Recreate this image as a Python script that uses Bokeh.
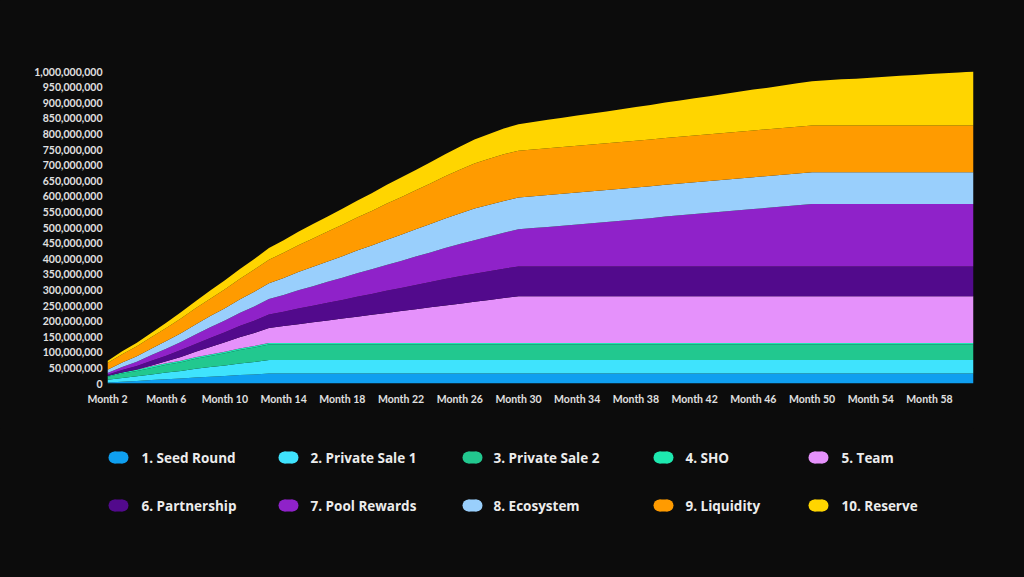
from bokeh.plotting import figure
from bokeh.models import ColumnDataSource, Range1d, FixedTicker, NumeralTickFormatter
from bokeh.layouts import column
from bokeh.embed import file_html
from bokeh.resources import INLINE
from bokeh.core.properties import value

# ---------------- data (millions of tokens, months 2..61) ----------------
months = list(range(2, 62))

seed_round = [3, 6, 8, 11, 14, 16, 19, 22, 24, 27, 29, 32,
              32, 32, 32, 32, 32, 32, 32, 32, 32, 32, 32, 32,
              32, 32, 32, 32, 32, 32, 32, 32, 32, 32, 32, 32,
              32, 32, 32, 32, 32, 32, 32, 32, 32, 32, 32, 32,
              32, 32, 32, 32, 32, 32, 32, 32, 32, 32, 32, 32]
private_sale_1 = [9, 12, 15, 18, 21, 24, 28, 31, 34, 37, 40, 43,
                  43, 43, 43, 43, 43, 43, 43, 43, 43, 43, 43, 43,
                  43, 43, 43, 43, 43, 43, 43, 43, 43, 43, 43, 43,
                  43, 43, 43, 43, 43, 43, 43, 43, 43, 43, 43, 43,
                  43, 43, 43, 43, 43, 43, 43, 43, 43, 43, 43, 43]
private_sale_2 = [10, 14, 17, 21, 25, 28, 32, 35, 39, 43, 46, 50,
                  50, 50, 50, 50, 50, 50, 50, 50, 50, 50, 50, 50,
                  50, 50, 50, 50, 50, 50, 50, 50, 50, 50, 50, 50,
                  50, 50, 50, 50, 50, 50, 50, 50, 50, 50, 50, 50,
                  50, 50, 50, 50, 50, 50, 50, 50, 50, 50, 50, 50]
sho = [2, 3, 4, 5, 5, 5, 5, 5, 5, 5, 5, 5,
       5, 5, 5, 5, 5, 5, 5, 5, 5, 5, 5, 5,
       5, 5, 5, 5, 5, 5, 5, 5, 5, 5, 5, 5,
       5, 5, 5, 5, 5, 5, 5, 5, 5, 5, 5, 5,
       5, 5, 5, 5, 5, 5, 5, 5, 5, 5, 5, 5]
team = [0, 0, 1, 3, 6, 12, 18, 24, 30, 36, 42, 48,
        54, 60, 66, 72, 78, 84, 90, 96, 102, 108, 114, 120,
        126, 132, 138, 144, 150, 150, 150, 150, 150, 150, 150, 150,
        150, 150, 150, 150, 150, 150, 150, 150, 150, 150, 150, 150,
        150, 150, 150, 150, 150, 150, 150, 150, 150, 150, 150, 150]
partnership = [4, 8, 11, 15, 18, 22, 25, 29, 32, 36, 39, 43,
               46, 50, 53, 57, 60, 64, 67, 71, 74, 78, 81, 85,
               88, 90, 92, 94, 95, 95, 95, 95, 95, 95, 95, 95,
               95, 95, 95, 95, 95, 95, 95, 95, 95, 95, 95, 95,
               95, 95, 95, 95, 95, 95, 95, 95, 95, 95, 95, 95]
pool_rewards = [6, 10, 14, 18, 22, 26, 30, 34, 38, 42, 46, 50,
                54, 59, 63, 67, 71, 75, 79, 83, 87, 91, 95, 99,
                103, 107, 111, 115, 119, 123, 127, 131, 135, 139, 143, 147,
                151, 155, 160, 164, 168, 172, 176, 180, 184, 188, 192, 196,
                200, 200, 200, 200, 200, 200, 200, 200, 200, 200, 200, 200]
ecosystem = [10, 14, 17, 21, 25, 28, 32, 36, 39, 43, 47, 50,
             54, 58, 62, 65, 69, 73, 76, 80, 84, 87, 91, 95,
             98, 102, 102, 102, 102, 102, 102, 102, 102, 102, 102, 102,
             102, 102, 102, 102, 102, 102, 102, 102, 102, 102, 102, 102,
             102, 102, 102, 102, 102, 102, 102, 102, 102, 102, 102, 102]
liquidity = [22, 27, 32, 37, 42, 47, 52, 56, 61, 66, 71, 76,
             81, 86, 91, 96, 101, 106, 111, 116, 120, 125, 130, 135,
             140, 144, 147, 150, 150, 150, 150, 150, 150, 150, 150, 150,
             150, 150, 150, 150, 150, 150, 150, 150, 150, 150, 150, 150,
             150, 150, 150, 150, 150, 150, 150, 150, 150, 150, 150, 150]
reserve = [6, 9, 12, 14, 17, 20, 23, 26, 29, 31, 34, 37,
           40, 43, 46, 48, 51, 54, 57, 60, 63, 65, 68, 71,
           74, 77, 80, 82, 85, 88, 91, 94, 97, 99, 102, 105,
           108, 111, 114, 116, 119, 122, 125, 128, 131, 133, 136, 139,
           142, 145, 148, 150, 153, 156, 159, 162, 165, 167, 170, 173]

series_keys = ["seed", "ps1", "ps2", "sho", "team", "partner", "pool", "eco", "liq", "reserve"]
series_values = [seed_round, private_sale_1, private_sale_2, sho, team,
                 partnership, pool_rewards, ecosystem, liquidity, reserve]
series_labels = ["1. Seed Round", "2. Private Sale  1", "3. Private Sale  2", "4. SHO", "5. Team",
                 "6. Partnership", "7. Pool  Rewards", "8. Ecosystem", "9. Liquidity", "10. Reserve"]
series_colors = ["#0f9ff0", "#3fe3fd", "#22c88f", "#1ee9b0", "#e591fb",
                 "#520a8c", "#8f22c9", "#99cffc", "#ff9b00", "#ffd500"]

x_tick_months = [2, 6, 10, 14, 18, 22, 26, 30, 34, 38, 42, 46, 50, 54, 58]
x_tick_labels = ["Month 2", "Month 6", "Month 10", "Month 14", "Month 18", "Month 22",
                 "Month 26", "Month 30", "Month 34", "Month 38", "Month 42", "Month 46",
                 "Month 50", "Month 54", "Month 58"]
y_ticks = [i * 50_000_000 for i in range(0, 21)]

# ---------------- chart ----------------
BG = "#0c0c0c"
AXIS_FONT = "Lato"
W = 1024
TOP_H = 428
LEG_H = 149

data = {"month": months}
for k, vals in zip(series_keys, series_values):
    data[k] = [v * 1_000_000 for v in vals]
source = ColumnDataSource(data)

FRAME_L, FRAME_R = 107, 973
FRAME_T, FRAME_B = 71, 383

p = figure(width=W, height=TOP_H, x_range=Range1d(2, 61), y_range=Range1d(0, 1_000_000_000),
           output_backend="svg", toolbar_location=None,
           min_border_left=FRAME_L, min_border_right=W - FRAME_R,
           min_border_top=FRAME_T, min_border_bottom=TOP_H - FRAME_B,
           background_fill_color=BG, border_fill_color=BG, outline_line_color=None)
p.title.visible = False

p.varea_stack(stackers=series_keys, x="month", color=series_colors, source=source)

p.grid.visible = False

p.xaxis.ticker = FixedTicker(ticks=x_tick_months)
p.xaxis.major_label_overrides = {m: lab for m, lab in zip(x_tick_months, x_tick_labels)}
p.yaxis.ticker = FixedTicker(ticks=y_ticks)
p.yaxis.formatter = NumeralTickFormatter(format="0,0")

for ax in (p.xaxis[0], p.yaxis[0]):
    ax.axis_line_color = None
    ax.major_tick_line_color = None
    ax.minor_tick_line_color = None
    ax.major_tick_out = 0
    ax.major_tick_in = 0
    ax.minor_tick_out = 0
    ax.major_label_text_color = "#e0e0e0"
    ax.major_label_text_font = AXIS_FONT
    ax.major_label_text_font_style = "bold"
p.xaxis.major_label_text_font_size = "10.5px"
p.yaxis.major_label_text_font_size = "10.5px"
p.xaxis.major_label_standoff = 9
p.yaxis.major_label_standoff = 5

# ---------------- legend (separate strip, frame aligned with chart frame) ----------------
leg = figure(width=W, height=LEG_H, x_range=Range1d(FRAME_L, FRAME_R), y_range=Range1d(LEG_H, 0),
             output_backend="svg", toolbar_location=None, min_border=0,
             min_border_left=FRAME_L, min_border_right=W - FRAME_R,
             x_axis_location=None, y_axis_location=None,
             background_fill_color=BG, border_fill_color=BG, outline_line_color=None)
leg.title.visible = False
leg.grid.visible = False

swatch_left = [108, 278, 462, 653, 808]
text_left = [141, 310, 493, 685, 841]
row_y = [29, 77]

for i, (lab, col) in enumerate(zip(series_labels, series_colors)):
    r, c = divmod(i, 5)
    x0 = swatch_left[c]
    y0 = row_y[r]
    leg.scatter(x=[x0 + 6, x0 + 14], y=[y0, y0], size=12, marker="circle",
                fill_color=col, line_color=None)
    leg.rect(x=[x0 + 10], y=[y0], width=8, height=12, fill_color=col, line_color=None)
    leg.text(x=[text_left[c]], y=[y0], text=[lab], text_font=value("Open Sans"),
             text_font_style="bold", text_font_size="13.5px", text_color="#ececec",
             text_baseline="middle", text_align="left")

layout = column(p, leg, spacing=0, styles={"background-color": BG})

html = file_html(layout, INLINE)
html = html.replace("</head>", "<style>html, body { background-color: #0c0c0c; }</style></head>", 1)
open("out.html", "w").write(html)
